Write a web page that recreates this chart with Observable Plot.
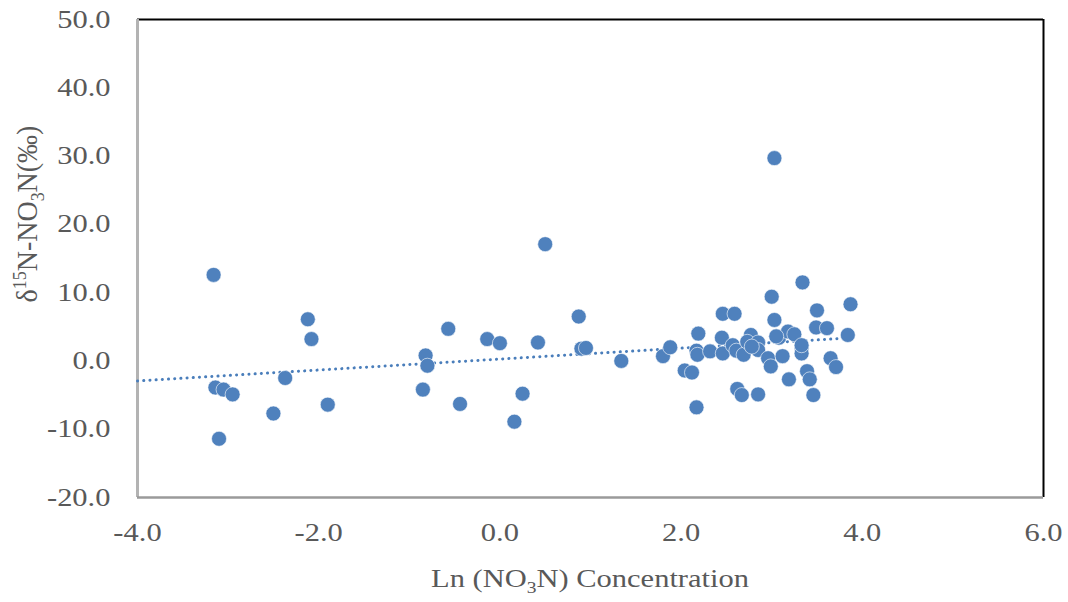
<!DOCTYPE html>
<html>
<head>
<meta charset="utf-8">
<script src="https://cdn.jsdelivr.net/npm/d3@7"></script>
<script src="https://cdn.jsdelivr.net/npm/@observablehq/plot@0.6"></script>
<style>
  html, body { margin: 0; padding: 0; background: #fff; }
  #chart { width: 1068px; height: 602px; }
  #chart svg, #chart svg text, #chart svg tspan { font-family: "Liberation Serif", "Times New Roman", serif !important; }
</style>
</head>
<body>
<div id="chart"></div>
<script>
// Ln(NO3-N) concentration (x) and δ15N-NO3N ‰ (y)
const lnConc = [
  -3.16, -3.14, -3.05, -2.95, -3.10, -2.37, -2.50, -2.12, -2.08, -1.90,
  -0.82, -0.80, -0.85, -0.57, -0.44, -0.14, 0.00, 0.16, 0.25, 0.42,
  0.50, 0.87, 0.90, 0.95, 1.34, 1.80, 1.88, 2.04, 2.12, 2.17,
  2.19, 2.17, 2.18, 2.32, 2.46, 2.59, 2.45, 2.46, 2.57, 2.61,
  2.69, 2.77, 2.73, 2.85, 2.85, 2.96, 2.99, 2.62, 2.67, 2.85,
  3.00, 3.03, 3.12, 3.08, 3.18, 3.25, 3.33, 3.33, 3.19, 3.39,
  3.42, 3.46, 3.34, 3.50, 3.49, 3.61, 3.65, 3.71, 3.87, 3.84,
  3.03, 2.78, 3.05, 3.33
];
const delta15N = [
  12.6, -3.9, -4.2, -4.9, -11.4, -2.5, -7.7, 6.1, 3.2, -6.4,
  0.8, -0.7, -4.2, 4.7, -6.3, 3.2, 2.6, -8.9, -4.8, 2.7,
  17.1, 6.5, 1.8, 1.9, 0.0, 0.7, 2.0, -1.4, -1.7, -6.8,
  4.0, 1.5, 0.9, 1.4, 6.9, 6.9, 3.4, 1.1, 2.3, 1.5,
  0.9, 3.8, 2.8, 2.7, 1.6, 0.4, -0.8, -4.1, -5.0, -4.9,
  9.4, 6.0, 0.7, 3.4, 4.3, 3.9, 1.9, 1.1, -2.7, -1.5,
  -2.7, -5.0, 11.5, 7.4, 4.9, 4.8, 0.4, -0.9, 8.3, 3.8,
  29.7, 2.1, 3.6, 2.3
];
const xTicks = [-4, -2, 0, 2, 4, 6];
const yTicks = [-20, -10, 0, 10, 20, 30, 40, 50];

const points = lnConc.map((x, i) => ({x, y: delta15N[i]}));

// least-squares trendline (backward forecast to the axis start, like the source)
const mx = d3.mean(lnConc), my = d3.mean(delta15N);
const slope = d3.sum(points, d => (d.x - mx) * (d.y - my)) / d3.sum(points, d => (d.x - mx) ** 2);
const icpt = my - slope * mx;
const trend = [xTicks[0], d3.max(lnConc)].map(x => ({x, y: icpt + slope * x}));

const fmt = d => d.toFixed(1);
const W = 1068, H = 602, ML = 137, MR = 25, MT = 19, MB = 105;
const FONT = "'Liberation Serif', 'Times New Roman', serif";
const STRETCH = 1.22;

const plot = Plot.plot({
  width: W, height: H,
  marginLeft: ML, marginRight: MR, marginTop: MT, marginBottom: MB,
  style: {fontFamily: FONT, background: "#fff", overflow: "visible"},
  x: {domain: [xTicks[0], xTicks[xTicks.length - 1]]},
  y: {domain: [yTicks[0], yTicks[yTicks.length - 1]]},
  marks: [
    Plot.axisX({ticks: xTicks, tickSize: 0, tickPadding: 26, tickFormat: fmt, fontSize: 25, fill: "#595959", label: null}),
    Plot.axisY({ticks: yTicks, tickSize: 0, tickPadding: 27, tickFormat: fmt, fontSize: 25, fill: "#595959", label: null}),
    Plot.ruleY([yTicks[yTicks.length - 1]], {stroke: "#000", strokeWidth: 2}),
    Plot.ruleX([xTicks[xTicks.length - 1]], {stroke: "#000", strokeWidth: 2}),
    Plot.ruleX([xTicks[0]], {stroke: "#b3b3b3", strokeWidth: 3}),
    Plot.ruleY([yTicks[0]], {stroke: "#9a9a9a", strokeWidth: 2.5}),
    Plot.line(trend, {x: "x", y: "y", stroke: "#4a7ebb", strokeWidth: 3, strokeDasharray: "0.1 6.1", strokeLinecap: "round"}),
    Plot.dot(points, {x: "x", y: "y", r: 7.5, fill: "#4f81bd", stroke: "#ffffff", strokeWidth: 0.6})
  ]
});

const svg = d3.select(plot);
// widen tick labels horizontally about their anchor, like the source's wide lettering
svg.selectAll("g[aria-label$='tick label'] text").each(function () {
  const t = d3.select(this);
  const tr = t.attr("transform");
  if (tr) {
    t.attr("transform", tr + ` scale(${STRETCH},1)`);
  } else {
    const x = +t.attr("x") || 0, y = +t.attr("y") || 0;
    t.attr("x", null).attr("y", null).attr("transform", `translate(${x},${y}) scale(${STRETCH},1)`);
  }
});

// x-axis title
const xt = svg.append("text")
  .attr("transform", `translate(${ML + (W - ML - MR) / 2},587) scale(${STRETCH},1)`)
  .attr("text-anchor", "middle").style("font-family", FONT)
  .attr("font-size", 25).attr("fill", "#595959");
xt.append("tspan").text("Ln (NO");
xt.append("tspan").attr("font-size", 16).attr("dy", 6).text("3");
xt.append("tspan").attr("dy", -6).text("N) Concentration");

// y-axis title
const yt = svg.append("text")
  .attr("transform", "translate(37,214) rotate(-90) scale(1.12,1.15)")
  .attr("text-anchor", "middle").style("font-family", FONT)
  .attr("font-size", 25).attr("fill", "#595959");
yt.append("tspan").text("δ");
yt.append("tspan").attr("font-size", 16).attr("dy", -10).text("15");
yt.append("tspan").attr("dy", 10).text("N-NO");
yt.append("tspan").attr("font-size", 16).attr("dy", 6).text("3");
yt.append("tspan").attr("dy", -6).text("N(‰)");

document.getElementById("chart").appendChild(plot);
</script>
</body>
</html>
